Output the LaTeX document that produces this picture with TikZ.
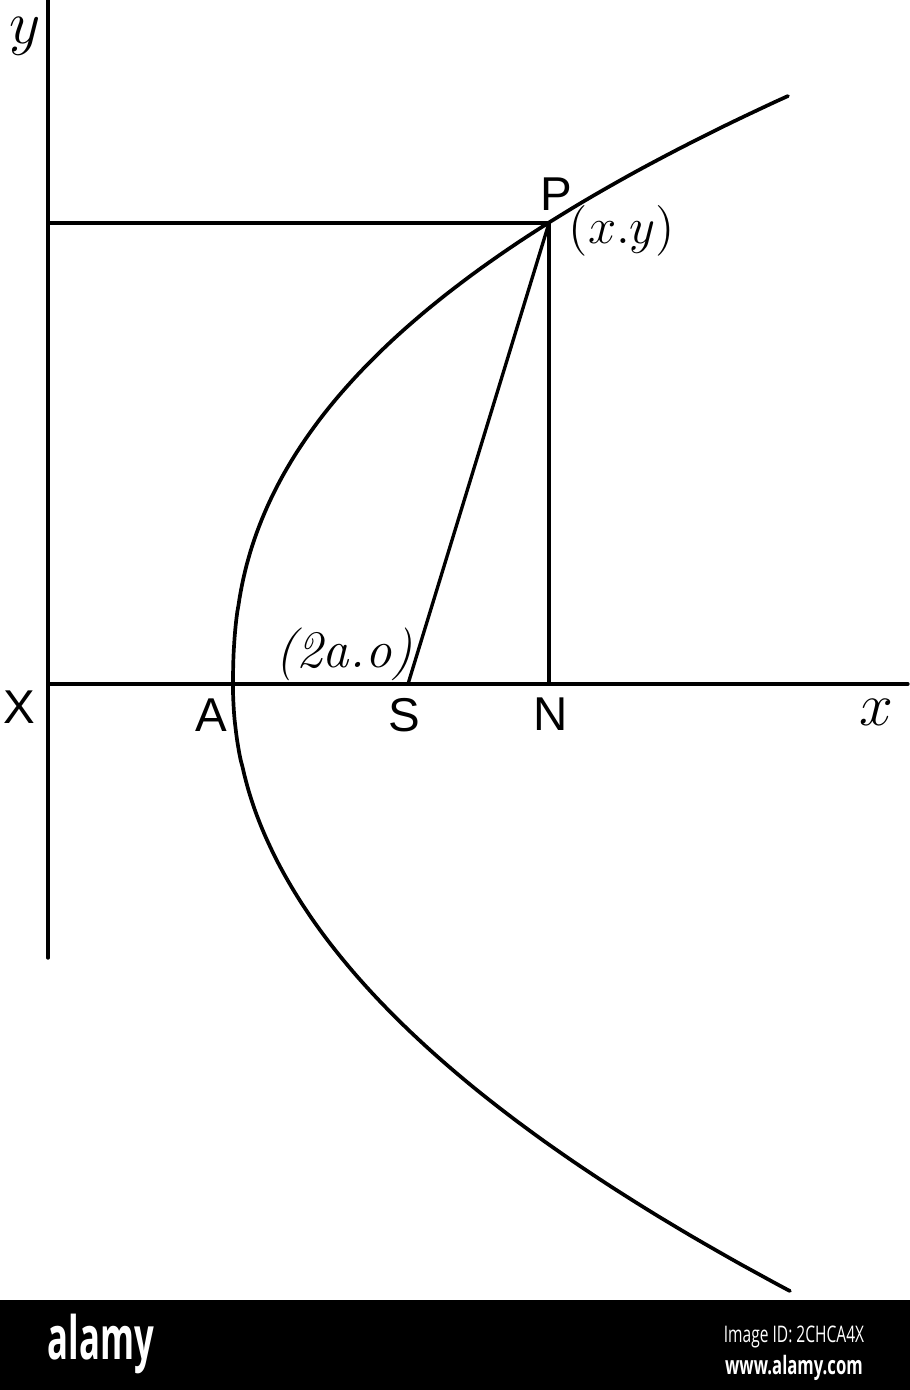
\documentclass[tikz,border=0pt]{standalone}
\usepackage{fontspec}
\newfontfamily\labfont{Liberation Sans}
\newfontfamily\bannerfont{Open Sans}
\begin{document}
\begin{tikzpicture}[x=0.01cm,y=-0.01cm,
  ln/.style={line width=0.95pt,line cap=round,line join=round},
  caplab/.style={font=\labfont\fontsize{13.5}{14}\selectfont,inner sep=0pt},
  itlab/.style={font=\fontsize{15}{16}\selectfont,inner sep=0pt},
  axlab/.style={font=\fontsize{18}{19}\selectfont,inner sep=0pt}]
\useasboundingbox (0,0) rectangle (910,1390);
\fill[white] (0,0) rectangle (910,1390);
% points
\coordinate (Ytop) at (48,0);
\coordinate (Ybot) at (48,958);
\coordinate (O) at (48,684);
\coordinate (Xend) at (908,684);
\coordinate (P) at (549,223);
\coordinate (Q) at (48,223);
\coordinate (N) at (549,684);
\coordinate (S) at (408,684);
% axes
\draw[ln] (Ytop) -- (Ybot);
\draw[ln] (O) -- (Xend);
% construction lines
\draw[ln] (Q) -- (P);
\draw[ln] (P) -- (N);
\draw[ln] (P) -- (S);
% parabola
\draw[ln, line width=1.05pt]
  plot[domain=589:0.5, samples=90] ({233+555*pow(\x/589,2.33)},{685-\x})
  -- plot[domain=0.5:606, samples=90] ({233+557*pow(\x/606,2.05)},{685+\x});
% labels
\node[axlab] (ylab) at (25,36) {$y$};
\node[axlab] (xlab) at (876,712) {$x$};
\node[caplab] (Xl) at (19,707) {X};
\node[caplab] (Al) at (211,715) {A};
\node[caplab] (Sl) at (404,715) {S};
\node[caplab] (Nl) at (551,714) {N};
\node[caplab] (Pl) at (556,194) {P};
\node[itlab] (Pxy) at (622,231) {$(x.y)$};
\node[itlab] (Sxy) at (344,654) {\textit{(2a.o)}};
% banner
\fill[black] (0,1300) rectangle (910,1390);
\node[white, font=\bannerfont\bfseries\fontsize{17}{18}\selectfont, xscale=0.58, inner sep=0pt] (logo) at (101,1344) {alamy};
\node[white, font=\bannerfont\fontsize{6.5}{7}\selectfont, xscale=0.68, inner sep=0pt] (imgid) at (794,1337) {Image ID: 2CHCA4X};
\node[white, font=\bannerfont\bfseries\fontsize{7.2}{8}\selectfont, xscale=0.66, inner sep=0pt] (www) at (794,1368) {www.alamy.com};
\end{tikzpicture}
\end{document}
